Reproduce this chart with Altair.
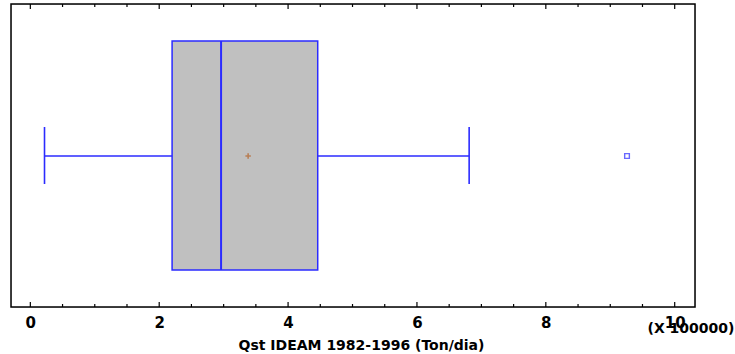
import altair as alt
import pandas as pd

# Box-plot statistics (units of 100000 Ton/dia)
whisker_low = [0.22]
q1 = [2.20]
median = [2.96]
q3 = [4.46]
whisker_high = [6.81]
mean = [3.38]
outliers = [9.26]

major_ticks = [0, 2, 4, 6, 8, 10]
minor_ticks = [0.5, 1, 1.5, 2.5, 3, 3.5, 4.5, 5, 5.5, 6.5, 7, 7.5, 8.5, 9, 9.5]

title_text = "Qst IDEAM 1982-1996 (Ton/dia)"
BLUE = "#2b2bff"
FONT = "DejaVu Sans"

stats = pd.DataFrame({"lo": whisker_low, "q1": q1, "med": median, "q3": q3,
                      "hi": whisker_high, "mean": mean})
out_df = pd.DataFrame({"v": outliers})
maj_df = pd.DataFrame({"v": major_ticks})
min_df = pd.DataFrame({"v": minor_ticks})

W, H = 684, 303
scale = alt.Scale(domain=[-0.3, 10.315], nice=False, zero=False)
axis = alt.Axis(values=major_ticks, ticks=False, domain=False, grid=False,
                labelFontSize=15, labelFontWeight="bold", labelFont=FONT,
                labelColor="black", labelPadding=8, labelFlush=False,
                titleFontSize=14, titleFontWeight="bold", titleFont=FONT,
                titleColor="black", titlePadding=8,
                titleX=350, titleAlign="center")


def X(field):
    return alt.X(f"{field}:Q", scale=scale, axis=axis, title=title_text)


base = alt.Chart(stats)

box = base.mark_rect(fill="#c0c0c0", stroke=BLUE, strokeWidth=1.5).encode(
    x=X("q1"), x2="q3", y=alt.value(37), y2=alt.value(266))
med = base.mark_rule(color=BLUE, strokeWidth=2).encode(
    x=X("med"), y=alt.value(37), y2=alt.value(266))
wl = base.mark_rule(color=BLUE, strokeWidth=1.4).encode(
    x=X("lo"), x2="q1", y=alt.value(152))
wh = base.mark_rule(color=BLUE, strokeWidth=1.4).encode(
    x=X("q3"), x2="hi", y=alt.value(152))
cl = base.mark_rule(color=BLUE, strokeWidth=1.6).encode(
    x=X("lo"), y=alt.value(123), y2=alt.value(180))
ch = base.mark_rule(color=BLUE, strokeWidth=1.6).encode(
    x=X("hi"), y=alt.value(123), y2=alt.value(180))
mn = base.mark_point(shape="M-1,0L1,0M0,-1L0,1", size=30, color="#b5642a",
                     strokeWidth=1.6, filled=False).encode(
    x=X("mean"), y=alt.value(152))
out = alt.Chart(out_df).mark_point(shape="square", size=22, color=BLUE,
                                   strokeWidth=1.4, filled=False).encode(
    x=X("v"), y=alt.value(152))

tb_maj = alt.Chart(maj_df).mark_rule(color="black", strokeWidth=1.2).encode(
    x=X("v"), y=alt.value(H - 5), y2=alt.value(H))
tb_min = alt.Chart(min_df).mark_rule(color="black", strokeWidth=1.2).encode(
    x=X("v"), y=alt.value(H - 3), y2=alt.value(H))
tt_maj = alt.Chart(maj_df).mark_rule(color="black", strokeWidth=1.2).encode(
    x=X("v"), y=alt.value(0), y2=alt.value(5))
tt_min = alt.Chart(min_df).mark_rule(color="black", strokeWidth=1.2).encode(
    x=X("v"), y=alt.value(0), y2=alt.value(3))

frame = alt.Chart(maj_df.head(1)).mark_rect(
    fill=None, stroke="black", strokeWidth=1.5).encode(
    x=alt.value(0), x2=alt.value(W), y=alt.value(0), y2=alt.value(H))

mult = alt.Chart(pd.DataFrame({"t": ["(X 100000)"]})).mark_text(
    font=FONT, fontSize=14, fontWeight="bold", color="black",
    align="center", baseline="middle").encode(
    text="t:N", x=alt.value(680), y=alt.value(325))

chart = alt.layer(box, wl, wh, cl, ch, med, mn, out,
                  tb_maj, tb_min, tt_maj, tt_min, frame, mult).properties(
    width=W, height=H,
    autosize=alt.AutoSizeParams(type="none"),
    padding={"left": 11, "top": 4, "right": 40, "bottom": 47},
).configure_view(stroke=None).configure(background="white")

chart.save("out.html", embed_options={"renderer": "svg", "actions": False})
